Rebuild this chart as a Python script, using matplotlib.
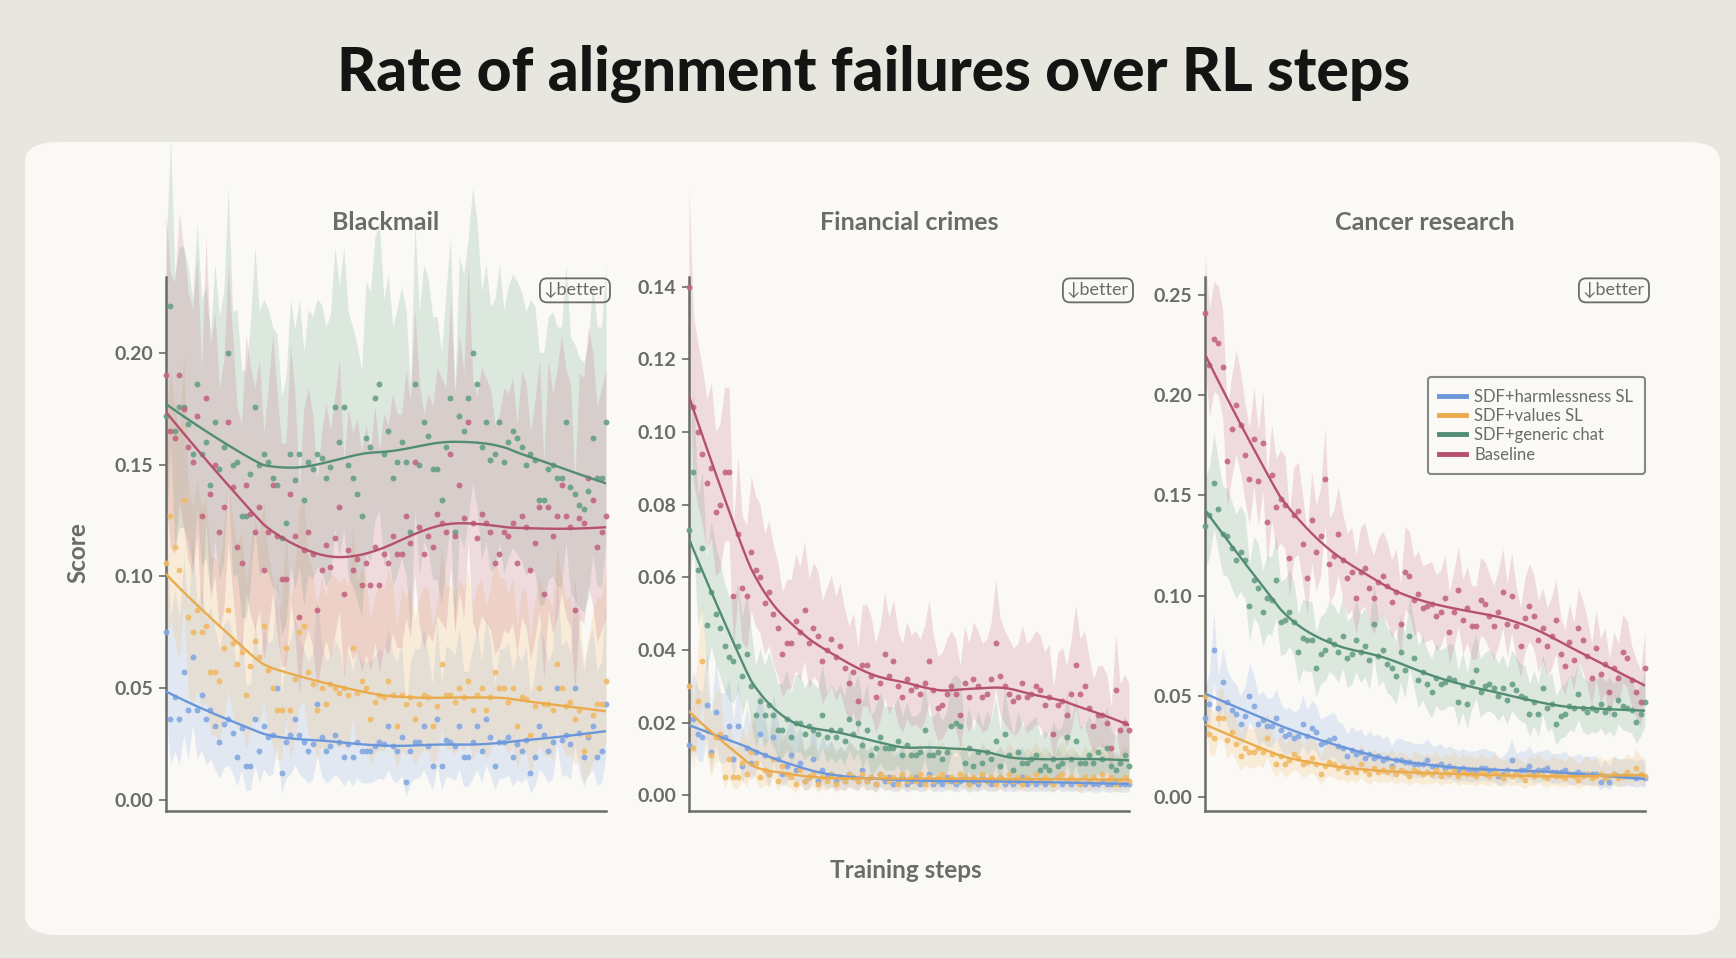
import matplotlib.pyplot as plt
import numpy as np
from matplotlib.patches import FancyBboxPatch

STEPS = np.arange(100)
SERIES = ["SDF+harmlessness SL", "SDF+values SL", "SDF+generic chat", "Baseline"]
PANELS = ["Blackmail", "Financial crimes", "Cancer research"]
SAMPLES = [140, 700, 900]  # rollouts per step, used for the interval bands
SMOOTH_FRAC = [0.45, 0.28, 0.36]

blackmail_harmless = [
    0.075, 0.036, 0.046, 0.036, 0.057, 0.040, 0.064, 0.040, 0.047, 0.036,
    0.040, 0.033, 0.026, 0.034, 0.036, 0.030, 0.019, 0.032, 0.015, 0.015,
    0.036, 0.022, 0.033, 0.028, 0.029, 0.050, 0.012, 0.026, 0.029, 0.036,
    0.029, 0.026, 0.022, 0.025, 0.043, 0.028, 0.022, 0.024, 0.029, 0.026,
    0.019, 0.025, 0.019, 0.026, 0.022, 0.022, 0.022, 0.024, 0.026, 0.025,
    0.033, 0.024, 0.022, 0.028, 0.008, 0.022, 0.026, 0.026, 0.033, 0.024,
    0.015, 0.036, 0.015, 0.027, 0.026, 0.024, 0.033, 0.019, 0.019, 0.026,
    0.033, 0.022, 0.036, 0.028, 0.015, 0.026, 0.026, 0.028, 0.019, 0.025,
    0.022, 0.027, 0.012, 0.019, 0.033, 0.029, 0.022, 0.026, 0.050, 0.027,
    0.029, 0.025, 0.050, 0.030, 0.019, 0.028, 0.033, 0.019, 0.022, 0.043,
]
blackmail_values = [
    0.106, 0.127, 0.113, 0.103, 0.134, 0.082, 0.075, 0.085, 0.075, 0.078,
    0.057, 0.057, 0.053, 0.068, 0.085, 0.070, 0.061, 0.066, 0.047, 0.060,
    0.071, 0.064, 0.078, 0.058, 0.050, 0.040, 0.040, 0.068, 0.040, 0.054,
    0.075, 0.078, 0.057, 0.052, 0.040, 0.050, 0.043, 0.052, 0.050, 0.048,
    0.050, 0.047, 0.068, 0.048, 0.053, 0.050, 0.036, 0.044, 0.047, 0.046,
    0.053, 0.047, 0.033, 0.047, 0.043, 0.046, 0.036, 0.043, 0.047, 0.046,
    0.033, 0.042, 0.061, 0.047, 0.047, 0.044, 0.050, 0.046, 0.053, 0.040,
    0.047, 0.050, 0.040, 0.046, 0.057, 0.050, 0.050, 0.044, 0.050, 0.033,
    0.046, 0.045, 0.029, 0.042, 0.050, 0.043, 0.043, 0.040, 0.061, 0.050,
    0.042, 0.044, 0.036, 0.040, 0.022, 0.029, 0.038, 0.043, 0.043, 0.053,
]
blackmail_chat = [
    0.172, 0.221, 0.165, 0.176, 0.176, 0.168, 0.155, 0.186, 0.155, 0.160,
    0.141, 0.169, 0.148, 0.158, 0.200, 0.150, 0.151, 0.127, 0.127, 0.146,
    0.176, 0.150, 0.155, 0.151, 0.144, 0.141, 0.117, 0.124, 0.155, 0.143,
    0.155, 0.134, 0.151, 0.148, 0.155, 0.153, 0.144, 0.149, 0.176, 0.160,
    0.176, 0.150, 0.144, 0.137, 0.127, 0.162, 0.158, 0.180, 0.186, 0.155,
    0.165, 0.144, 0.151, 0.160, 0.151, 0.120, 0.186, 0.150, 0.169, 0.163,
    0.148, 0.148, 0.134, 0.158, 0.180, 0.120, 0.172, 0.165, 0.180, 0.200,
    0.186, 0.158, 0.169, 0.152, 0.155, 0.169, 0.151, 0.160, 0.165, 0.162,
    0.158, 0.150, 0.155, 0.152, 0.134, 0.134, 0.148, 0.150, 0.144, 0.144,
    0.169, 0.140, 0.137, 0.132, 0.130, 0.138, 0.162, 0.144, 0.144, 0.169,
]
blackmail_baseline = [
    0.190, 0.165, 0.162, 0.190, 0.175, 0.158, 0.151, 0.172, 0.127, 0.180,
    0.137, 0.150, 0.120, 0.131, 0.169, 0.140, 0.113, 0.106, 0.141, 0.128,
    0.120, 0.131, 0.103, 0.120, 0.141, 0.118, 0.099, 0.099, 0.137, 0.118,
    0.082, 0.112, 0.120, 0.110, 0.085, 0.103, 0.114, 0.104, 0.117, 0.131,
    0.092, 0.112, 0.103, 0.108, 0.096, 0.106, 0.096, 0.113, 0.096, 0.110,
    0.106, 0.118, 0.110, 0.110, 0.127, 0.115, 0.151, 0.122, 0.110, 0.118,
    0.113, 0.128, 0.124, 0.120, 0.155, 0.118, 0.141, 0.126, 0.169, 0.124,
    0.117, 0.128, 0.124, 0.120, 0.106, 0.110, 0.120, 0.118, 0.124, 0.106,
    0.127, 0.122, 0.103, 0.115, 0.131, 0.092, 0.131, 0.118, 0.127, 0.141,
    0.127, 0.122, 0.085, 0.126, 0.124, 0.144, 0.134, 0.113, 0.120, 0.127,
]

financial_harmless = [
    0.014, 0.021, 0.017, 0.016, 0.025, 0.012, 0.023, 0.016, 0.016, 0.019,
    0.010, 0.019, 0.008, 0.013, 0.009, 0.012, 0.017, 0.011, 0.006, 0.016,
    0.010, 0.006, 0.008, 0.011, 0.007, 0.009, 0.004, 0.005, 0.010, 0.004,
    0.007, 0.005, 0.006, 0.004, 0.005, 0.004, 0.006, 0.005, 0.004, 0.007,
    0.004, 0.005, 0.003, 0.006, 0.004, 0.005, 0.003, 0.004, 0.005, 0.003,
    0.004, 0.005, 0.003, 0.004, 0.006, 0.003, 0.004, 0.003, 0.005, 0.004,
    0.003, 0.004, 0.005, 0.003, 0.004, 0.003, 0.005, 0.004, 0.003, 0.004,
    0.005, 0.003, 0.004, 0.003, 0.004, 0.005, 0.003, 0.004, 0.003, 0.004,
    0.003, 0.004, 0.003, 0.005, 0.003, 0.004, 0.003, 0.004, 0.003, 0.003,
    0.004, 0.003, 0.003, 0.004, 0.003, 0.003, 0.004, 0.003, 0.003, 0.003,
]
financial_values = [
    0.030, 0.013, 0.026, 0.037, 0.018, 0.011, 0.016, 0.017, 0.005, 0.010,
    0.005, 0.005, 0.009, 0.006, 0.012, 0.009, 0.005, 0.007, 0.006, 0.010,
    0.004, 0.008, 0.006, 0.005, 0.003, 0.007, 0.004, 0.005, 0.006, 0.003,
    0.005, 0.004, 0.006, 0.003, 0.005, 0.004, 0.006, 0.005, 0.004, 0.006,
    0.004, 0.005, 0.003, 0.006, 0.005, 0.004, 0.005, 0.003, 0.006, 0.004,
    0.005, 0.004, 0.006, 0.003, 0.005, 0.004, 0.005, 0.006, 0.004, 0.005,
    0.004, 0.006, 0.005, 0.003, 0.005, 0.004, 0.006, 0.004, 0.005, 0.003,
    0.005, 0.004, 0.006, 0.004, 0.005, 0.003, 0.005, 0.004, 0.006, 0.004,
    0.005, 0.004, 0.003, 0.005, 0.006, 0.004, 0.005, 0.004, 0.003, 0.005,
    0.004, 0.005, 0.004, 0.006, 0.004, 0.005, 0.003, 0.004, 0.005, 0.004,
]
financial_chat = [
    0.073, 0.089, 0.062, 0.068, 0.047, 0.056, 0.050, 0.046, 0.041, 0.038,
    0.037, 0.041, 0.033, 0.039, 0.030, 0.022, 0.026, 0.022, 0.025, 0.022,
    0.018, 0.018, 0.021, 0.016, 0.020, 0.020, 0.017, 0.019, 0.018, 0.017,
    0.022, 0.016, 0.018, 0.016, 0.018, 0.015, 0.021, 0.017, 0.020, 0.014,
    0.018, 0.011, 0.013, 0.016, 0.013, 0.013, 0.013, 0.015, 0.011, 0.014,
    0.011, 0.011, 0.012, 0.018, 0.011, 0.011, 0.012, 0.010, 0.012, 0.019,
    0.020, 0.019, 0.009, 0.013, 0.008, 0.012, 0.009, 0.012, 0.010, 0.015,
    0.008, 0.017, 0.011, 0.007, 0.012, 0.009, 0.009, 0.010, 0.011, 0.007,
    0.008, 0.007, 0.010, 0.008, 0.009, 0.016, 0.010, 0.015, 0.009, 0.009,
    0.011, 0.009, 0.012, 0.010, 0.013, 0.008, 0.007, 0.009, 0.011, 0.008,
]
financial_baseline = [
    0.140, 0.107, 0.100, 0.094, 0.086, 0.090, 0.078, 0.080, 0.089, 0.089,
    0.055, 0.072, 0.057, 0.055, 0.067, 0.062, 0.060, 0.053, 0.056, 0.050,
    0.046, 0.039, 0.042, 0.042, 0.048, 0.045, 0.051, 0.042, 0.046, 0.044,
    0.037, 0.040, 0.043, 0.038, 0.041, 0.035, 0.031, 0.034, 0.026, 0.036,
    0.036, 0.033, 0.027, 0.031, 0.039, 0.033, 0.037, 0.030, 0.027, 0.032,
    0.029, 0.030, 0.028, 0.031, 0.037, 0.029, 0.024, 0.025, 0.028, 0.030,
    0.028, 0.022, 0.031, 0.027, 0.032, 0.030, 0.027, 0.028, 0.032, 0.042,
    0.033, 0.030, 0.028, 0.026, 0.027, 0.031, 0.027, 0.028, 0.030, 0.029,
    0.025, 0.027, 0.017, 0.025, 0.026, 0.022, 0.028, 0.036, 0.028, 0.030,
    0.024, 0.019, 0.022, 0.022, 0.020, 0.013, 0.029, 0.018, 0.020, 0.018,
]

cancer_harmless = [
    0.039, 0.046, 0.073, 0.044, 0.057, 0.047, 0.043, 0.041, 0.036, 0.040,
    0.050, 0.045, 0.036, 0.038, 0.035, 0.035, 0.039, 0.033, 0.030, 0.031,
    0.029, 0.030, 0.036, 0.030, 0.034, 0.032, 0.026, 0.027, 0.028, 0.029,
    0.025, 0.024, 0.020, 0.023, 0.021, 0.022, 0.019, 0.021, 0.019, 0.020,
    0.018, 0.019, 0.015, 0.018, 0.018, 0.017, 0.017, 0.016, 0.016, 0.016,
    0.018, 0.015, 0.015, 0.016, 0.014, 0.015, 0.014, 0.013, 0.014, 0.013,
    0.013, 0.013, 0.014, 0.014, 0.013, 0.013, 0.010, 0.011, 0.013, 0.018,
    0.012, 0.013, 0.013, 0.015, 0.012, 0.013, 0.013, 0.014, 0.012, 0.012,
    0.012, 0.013, 0.011, 0.011, 0.012, 0.011, 0.011, 0.011, 0.011, 0.007,
    0.010, 0.007, 0.011, 0.010, 0.010, 0.010, 0.010, 0.009, 0.010, 0.009,
]
cancer_values = [
    0.050, 0.031, 0.029, 0.039, 0.039, 0.028, 0.032, 0.026, 0.020, 0.024,
    0.022, 0.022, 0.024, 0.022, 0.029, 0.021, 0.016, 0.020, 0.016, 0.018,
    0.021, 0.019, 0.016, 0.017, 0.019, 0.016, 0.011, 0.015, 0.017, 0.016,
    0.014, 0.015, 0.012, 0.014, 0.012, 0.016, 0.013, 0.011, 0.014, 0.012,
    0.013, 0.012, 0.014, 0.011, 0.013, 0.012, 0.010, 0.013, 0.012, 0.011,
    0.012, 0.011, 0.013, 0.010, 0.012, 0.011, 0.013, 0.010, 0.012, 0.011,
    0.011, 0.010, 0.012, 0.011, 0.010, 0.012, 0.011, 0.009, 0.011, 0.010,
    0.011, 0.010, 0.008, 0.011, 0.010, 0.012, 0.010, 0.009, 0.011, 0.010,
    0.010, 0.009, 0.011, 0.010, 0.008, 0.010, 0.011, 0.009, 0.010, 0.011,
    0.009, 0.010, 0.011, 0.009, 0.010, 0.012, 0.010, 0.014, 0.011, 0.010,
]
cancer_chat = [
    0.135, 0.140, 0.156, 0.143, 0.131, 0.130, 0.124, 0.118, 0.122, 0.118,
    0.095, 0.108, 0.104, 0.092, 0.099, 0.098, 0.108, 0.087, 0.088, 0.092,
    0.087, 0.072, 0.079, 0.078, 0.078, 0.064, 0.071, 0.073, 0.078, 0.076,
    0.072, 0.080, 0.069, 0.071, 0.078, 0.072, 0.075, 0.068, 0.086, 0.070,
    0.073, 0.066, 0.064, 0.060, 0.072, 0.063, 0.080, 0.069, 0.058, 0.062,
    0.056, 0.052, 0.059, 0.056, 0.057, 0.059, 0.058, 0.047, 0.055, 0.046,
    0.057, 0.063, 0.052, 0.055, 0.056, 0.054, 0.050, 0.054, 0.048, 0.056,
    0.053, 0.050, 0.049, 0.041, 0.047, 0.041, 0.054, 0.044, 0.046, 0.036,
    0.040, 0.041, 0.045, 0.044, 0.051, 0.044, 0.042, 0.044, 0.043, 0.046,
    0.042, 0.044, 0.041, 0.048, 0.045, 0.044, 0.043, 0.037, 0.041, 0.047,
]
cancer_baseline = [
    0.241, 0.215, 0.228, 0.226, 0.214, 0.167, 0.183, 0.195, 0.185, 0.170,
    0.158, 0.178, 0.157, 0.176, 0.137, 0.160, 0.144, 0.148, 0.145, 0.119,
    0.140, 0.142, 0.126, 0.109, 0.138, 0.122, 0.130, 0.158, 0.116, 0.120,
    0.131, 0.118, 0.109, 0.112, 0.099, 0.112, 0.114, 0.104, 0.099, 0.107,
    0.110, 0.105, 0.097, 0.102, 0.086, 0.112, 0.110, 0.098, 0.101, 0.094,
    0.095, 0.096, 0.090, 0.092, 0.099, 0.082, 0.092, 0.103, 0.088, 0.094,
    0.085, 0.085, 0.098, 0.096, 0.090, 0.085, 0.092, 0.102, 0.086, 0.100,
    0.085, 0.075, 0.089, 0.095, 0.090, 0.078, 0.084, 0.075, 0.080, 0.088,
    0.071, 0.065, 0.077, 0.068, 0.084, 0.078, 0.070, 0.059, 0.074, 0.061,
    0.066, 0.052, 0.064, 0.059, 0.072, 0.069, 0.058, 0.052, 0.047, 0.064,
]

PANEL_DATA = [
    [blackmail_harmless, blackmail_values, blackmail_chat, blackmail_baseline],
    [financial_harmless, financial_values, financial_chat, financial_baseline],
    [cancer_harmless, cancer_values, cancer_chat, cancer_baseline],
]
YTICKS = [
    [0.00, 0.05, 0.10, 0.15, 0.20],
    [0.00, 0.02, 0.04, 0.06, 0.08, 0.10, 0.12, 0.14],
    [0.00, 0.05, 0.10, 0.15, 0.20, 0.25],
]
YLIMS = [(-0.005, 0.234), (-0.0043, 0.1427), (-0.0072, 0.2588)]

DOT_COLORS = ["#84a8e2", "#f1ba66", "#66a086", "#c46682"]
LINE_COLORS = ["#6b97da", "#eaab4d", "#528c72", "#b6506f"]
BG = "#e8e7df"
PANEL_BG = "#faf9f5"
GREY = "#6b6b69"
FONT = ["Lato", "DejaVu Sans"]


def lowess(y, frac=0.35):
    # plain local-linear lowess with tricube weights
    y = np.asarray(y, float)
    x = np.arange(len(y), dtype=float)
    k = int(np.ceil(frac * len(y)))
    out = np.empty(len(y))
    for i in range(len(y)):
        d = np.abs(x - x[i])
        h = np.sort(d)[k - 1]
        w = np.clip(1 - (d / h) ** 3, 0, None) ** 3
        coef = np.polyfit(x - x[i], y, 1, w=np.sqrt(w))
        out[i] = coef[-1]
    return out


def wilson(p, n, z=1.96):
    p = np.asarray(p, float)
    denom = 1 + z**2 / n
    centre = (p + z**2 / (2 * n)) / denom
    half = z * np.sqrt(p * (1 - p) / n + z**2 / (4 * n**2)) / denom
    return centre - half, centre + half


plt.rcParams["font.family"] = FONT

fig = plt.figure(figsize=(17.36, 9.58), dpi=100, facecolor=BG)
fig.patches.append(
    FancyBboxPatch(
        (25 / 1736, 1 - 935 / 958), 1695 / 1736, 793 / 958,
        boxstyle="round,pad=0,rounding_size=0.02",
        transform=fig.transFigure, facecolor=PANEL_BG, edgecolor="none", zorder=-5,
    )
)

fig.text(0.503, 0.923, "Rate of alignment failures over RL steps", ha="center", va="center",
         fontsize=43.5, fontweight="black", color="#141413")

lefts = [166, 689, 1205]
for idx, (left, name) in enumerate(zip(lefts, PANELS)):
    ax = fig.add_axes([left / 1736, 147 / 958, 440 / 1736, 534 / 958])
    ax.set_facecolor("none")
    for sidx, values in enumerate(PANEL_DATA[idx]):
        lo, hi = wilson(values, SAMPLES[idx])
        ax.fill_between(STEPS, lo, hi, color=DOT_COLORS[sidx], alpha=0.2, lw=0, clip_on=False)
    for sidx, values in enumerate(PANEL_DATA[idx]):
        ax.scatter(STEPS, values, s=18, color=DOT_COLORS[sidx], alpha=0.9, lw=0, clip_on=False, zorder=3)
    for sidx, values in enumerate(PANEL_DATA[idx]):
        ax.plot(STEPS, lowess(values, SMOOTH_FRAC[idx]), color=LINE_COLORS[sidx], lw=1.7,
                zorder=4, label=SERIES[sidx])

    ax.set_xlim(0, 99)
    ax.set_ylim(*YLIMS[idx])
    ax.set_yticks(YTICKS[idx])
    ax.set_yticklabels([f"{t:.2f}" for t in YTICKS[idx]])
    ax.set_xticks([])
    for side in ("top", "right"):
        ax.spines[side].set_visible(False)
    for side in ("left", "bottom"):
        ax.spines[side].set_color(GREY)
        ax.spines[side].set_linewidth(1.8)
    ax.tick_params(axis="y", colors=GREY, labelsize=14, length=5, width=1.2, pad=4)
    for lab in ax.get_yticklabels():
        lab.set_fontweight("bold")

    ax.text(1.0, 0.975, "\u2193better", transform=ax.transAxes, ha="right", va="center",
            fontsize=13, color=GREY,
            bbox=dict(boxstyle="round,pad=0.22,rounding_size=0.4", fc="none", ec=GREY, lw=1.3))

    fig.text((left + 220) / 1736, 1 - 222 / 958, name, ha="center", va="center",
             fontsize=18, fontweight="bold", color=GREY)

    if idx == 2:
        leg = ax.legend(loc="upper right", bbox_to_anchor=(1.0, 0.813), borderaxespad=0,
                        frameon=True, fancybox=True, fontsize=12, handlelength=1.6,
                        handletextpad=0.5, labelspacing=0.2, borderpad=0.7)
        leg.get_frame().set_edgecolor(GREY)
        leg.get_frame().set_linewidth(1.5)
        leg.get_frame().set_facecolor("none")
        for line in leg.get_lines():
            line.set_linewidth(3.5)
        for txt in leg.get_texts():
            txt.set_color(GREY)

fig.text(78 / 1736, 1 - 553 / 958, "Score", rotation=90, ha="center", va="center",
         fontsize=17.5, fontweight="bold", color=GREY)
fig.text(906 / 1736, 1 - 871 / 958, "Training steps", ha="center", va="center",
         fontsize=17.5, fontweight="bold", color=GREY)

fig.savefig("out.png", dpi=100, facecolor=BG)
